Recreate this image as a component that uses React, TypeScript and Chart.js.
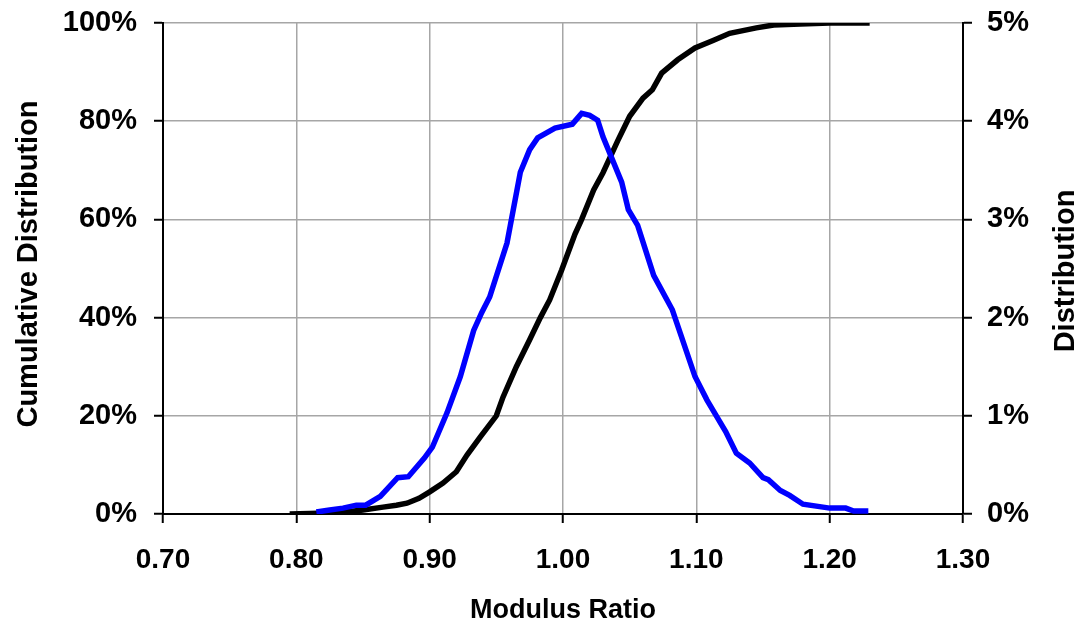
import React, { useEffect, useRef } from "react";
import { Chart, registerables } from "chart.js";

Chart.register(...registerables);

// Cumulative distribution (left axis, %)
const cumX = [0.795, 0.81, 0.833, 0.85, 0.865, 0.875, 0.883, 0.892, 0.9, 0.91, 0.92, 0.928, 0.938, 0.95, 0.955, 0.965, 0.975, 0.983, 0.99, 0.999, 1.009, 1.014, 1.023, 1.03, 1.041, 1.05, 1.06, 1.067, 1.074, 1.086, 1.099, 1.113, 1.125, 1.145, 1.158, 1.178, 1.2, 1.23];
const cumY = [0, 0.1, 0.3, 0.8, 1.4, 1.8, 2.2, 3.2, 4.5, 6.3, 8.6, 12, 15.7, 20, 23.8, 30, 35.5, 40, 43.6, 49.7, 57, 60, 66, 69.5, 76, 81, 84.7, 86.4, 89.8, 92.5, 94.9, 96.5, 97.9, 99, 99.6, 99.8, 100, 100];

// Distribution (right axis, %)
const distX = [0.815, 0.825, 0.835, 0.845, 0.852, 0.863, 0.876, 0.884, 0.896, 0.902, 0.913, 0.923, 0.933, 0.939, 0.945, 0.958, 0.968, 0.975, 0.981, 0.994, 1.007, 1.014, 1.02, 1.026, 1.03, 1.044, 1.049, 1.056, 1.068, 1.082, 1.099, 1.108, 1.115, 1.122, 1.13, 1.14, 1.15, 1.154, 1.163, 1.17, 1.18, 1.2, 1.212, 1.218, 1.229];
const distY = [0.02, 0.04, 0.06, 0.09, 0.09, 0.18, 0.37, 0.38, 0.57, 0.68, 1.03, 1.4, 1.87, 2.05, 2.21, 2.76, 3.48, 3.71, 3.83, 3.93, 3.97, 4.08, 4.06, 4.01, 3.84, 3.38, 3.1, 2.94, 2.43, 2.08, 1.4, 1.16, 1.0, 0.84, 0.62, 0.52, 0.37, 0.35, 0.24, 0.19, 0.1, 0.06, 0.06, 0.03, 0.03];

const xTitle = "Modulus Ratio";
const yTitle = "Cumulative Distribution";
const y1Title = "Distribution";

const FONT = '"Liberation Sans", Arial, Helvetica, sans-serif';

const titlePlugin = {
  id: "axisTitles",
  afterDraw(chart: any) {
    const ctx = chart.ctx;
    const a = chart.chartArea;
    ctx.save();
    ctx.fillStyle = "#000";
    ctx.textAlign = "center";
    ctx.textBaseline = "alphabetic";
    ctx.font = `bold 27px ${FONT}`;
    ctx.fillText(xTitle, (a.left + a.right) / 2, 618);
    ctx.font = `bold 29px ${FONT}`;
    ctx.save();
    ctx.translate(37, 264);
    ctx.rotate(-Math.PI / 2);
    ctx.fillText(yTitle, 0, 0);
    ctx.restore();
    ctx.save();
    ctx.translate(1074, 271);
    ctx.rotate(-Math.PI / 2);
    ctx.fillText(y1Title, 0, 0);
    ctx.restore();
    ctx.restore();
  },
};

export default function App() {
  const ref = useRef<HTMLCanvasElement | null>(null);
  useEffect(() => {
    document.body.style.margin = "0";
    const tickFont = { family: FONT, size: 29, weight: "bold" as const, lineHeight: 1 };
    const grid = { color: "#a6a6a6", lineWidth: 1.5, tickColor: "#000", tickLength: 9, tickWidth: 2 };
    const chart = new Chart(ref.current!, {
      type: "line",
      data: {
        datasets: [
          {
            label: y1Title,
            data: distX.map((x, i) => ({ x, y: distY[i] })),
            borderColor: "#0000ff",
            borderWidth: 5.5,
            pointRadius: 0,
            tension: 0,
            yAxisID: "y1",
          },
          {
            label: yTitle,
            data: cumX.map((x, i) => ({ x, y: cumY[i] })),
            borderColor: "#000000",
            borderWidth: 5.5,
            pointRadius: 0,
            tension: 0,
            yAxisID: "y",
          },
        ],
      },
      options: {
        animation: false,
        responsive: false,
        devicePixelRatio: 1,
        layout: { padding: { top: 23, left: 0, right: 0, bottom: 0 } },
        plugins: { legend: { display: false }, tooltip: { enabled: false } },
        scales: {
          x: {
            type: "linear",
            min: 0.7,
            max: 1.3,
            grid,
            border: { color: "#000", width: 2 },
            ticks: {
              stepSize: 0.1,
              font: { ...tickFont, size: 28 },
              color: "#000",
              padding: 23,
              maxRotation: 0,
              callback: (v: any) => Number(v).toFixed(2),
            },
            afterFit: (s: any) => {
              s.height = 108;
            },
          },
          y: {
            position: "left",
            min: 0,
            max: 100,
            grid,
            border: { color: "#000", width: 2 },
            ticks: {
              stepSize: 20,
              font: tickFont,
              color: "#000",
              padding: 17,
              callback: (v: any) => `${v}%`,
            },
            afterFit: (s: any) => {
              s.width = 163;
              s.paddingTop = 0;
              s.paddingBottom = 0;
            },
          },
          y1: {
            position: "right",
            min: 0,
            max: 5,
            grid: { ...grid, drawOnChartArea: false },
            border: { color: "#000", width: 2 },
            ticks: {
              stepSize: 1,
              font: tickFont,
              color: "#000",
              padding: 15,
              callback: (v: any) => `${v}%`,
            },
            afterFit: (s: any) => {
              s.width = 115;
              s.paddingTop = 0;
              s.paddingBottom = 0;
            },
          },
        },
      },
      plugins: [titlePlugin],
    });
    return () => chart.destroy();
  }, []);
  return (
    <div style={{ position: "absolute", left: 0, top: 0, width: 1078, height: 622, background: "#fff" }}>
      <canvas ref={ref} width={1078} height={622} />
    </div>
  );
}
